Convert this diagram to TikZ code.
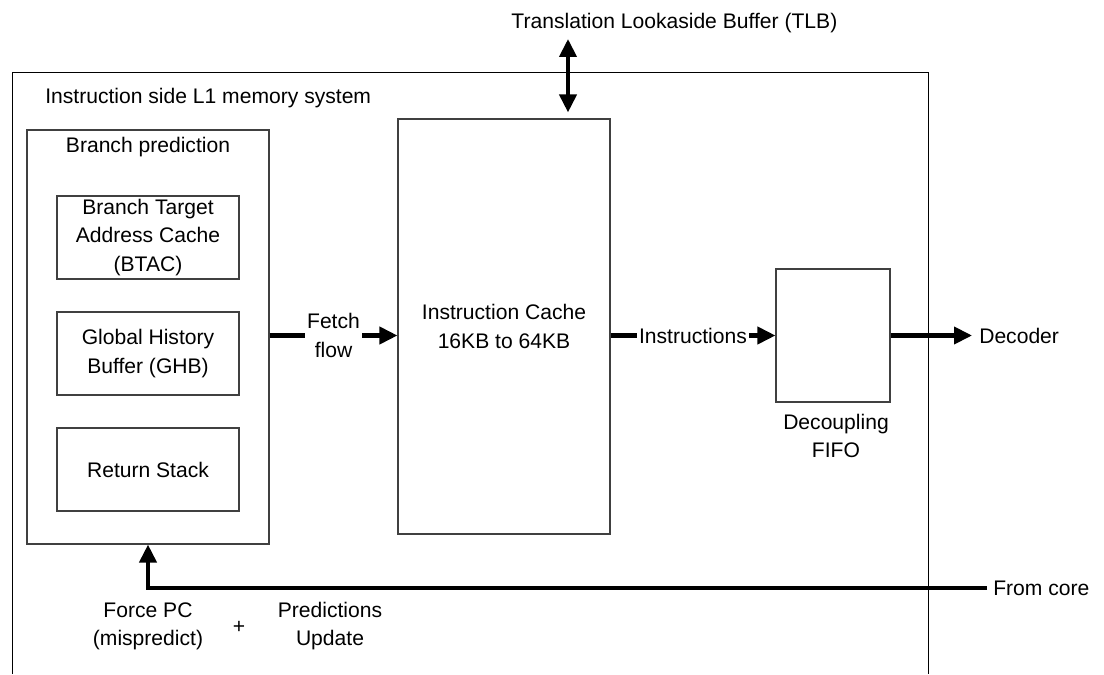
\documentclass[tikz,border=0pt]{standalone}
\usepackage{fontspec}
\setmainfont{Liberation Sans}
\usetikzlibrary{arrows.meta}

\begin{document}
\begin{tikzpicture}[>={Triangle[length=0.45cm, width=0.425cm]},
    box/.style={draw=black!75, line width=0.8pt, inner sep=0pt, align=center},
    flow/.style={line width=0.1cm, ->},
    lbl/.style={align=center, inner sep=0pt},
    font=\fontsize{15}{20}\selectfont]
    \useasboundingbox (0,0) rectangle (27.6,16.85);

    % 1. Khung ngoài (cạnh dưới để hở)
    \coordinate (O1) at (0.3, 0);
    \coordinate (O2) at (0.3, 15.05);
    \coordinate (O3) at (23.2, 15.05);
    \coordinate (O4) at (23.2, 0);
    \draw[line width=0.7pt] (O1) -- (O2) -- (O3) -- (O4);
    \node[lbl, anchor=west] (title) at (1.125, 14.4) {Instruction side L1 memory system};

    % 2. Khối dự đoán rẽ nhánh và ba khối con
    \node[box, minimum width=6.05cm, minimum height=10.35cm] (branch) at (3.7, 8.425) {};
    \node[lbl] (bptitle) at (3.7, 13.175) {Branch prediction};
    \foreach \n/\y/\t in {btac/10.9125/{Branch Target\\Address Cache\\(BTAC)},
                          ghb/8.0125/{Global History\\Buffer (GHB)},
                          rstack/5.1125/{Return Stack}} {
        \node[box, minimum width=4.55cm, minimum height=2.075cm] (\n) at (3.7, \y) {\t};
    }

    % 3. Bộ nhớ đệm lệnh và FIFO
    \node[box, minimum width=5.3cm, minimum height=10.375cm] (cache) at (12.6, 8.6875) {Instruction Cache\\16KB to 64KB};
    \node[box, minimum width=2.85cm, minimum height=3.325cm] (fifo) at (20.825, 8.4625) {};
    \node[lbl] (fifolbl) at (20.9, 5.96) {Decoupling\\FIFO};

    % 4. Các nhãn bên ngoài
    \node[lbl] (tlb) at (16.86, 16.275) {Translation Lookaside Buffer (TLB)};
    \node[lbl, anchor=west, inner sep=0.175cm] (decoder) at (24.3, 8.4625) {Decoder};
    \node[lbl, anchor=west, inner sep=0.15cm] (core) at (24.675, 2.15) {From core};
    \node[lbl] (force) at (3.7, 1.19) {Force PC\\(mispredict)};
    \node[lbl] (plus) at (5.975, 1.175) {+};
    \node[lbl] (update) at (8.25, 1.19) {Predictions\\Update};

    % 5. Các mũi tên (nét đậm)
    \coordinate (tlbtop) at (14.2, 15.875);
    \draw[flow, <->, shorten >=0.15cm] (tlbtop) -- (tlbtop |- cache.north);
    \draw[flow] (branch.east |- fifo.west) -- node[fill=white, inner sep=0.05cm, align=center] {Fetch\\flow} (cache.west |- fifo.west);
    \draw[flow] (cache.east |- fifo.west) -- node[fill=white, inner sep=0.05cm] {Instructions} (fifo.west);
    \draw[flow] (fifo.east) -- (decoder.west);
    \draw[flow] (core.west) -| (branch.south);
\end{tikzpicture}
\end{document}
